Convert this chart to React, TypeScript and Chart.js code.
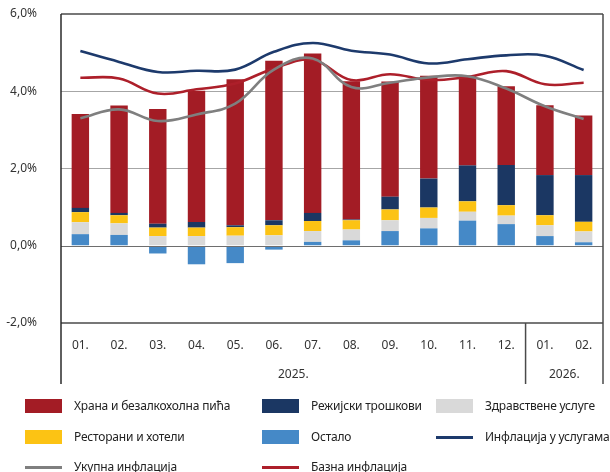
import React, { useEffect, useRef } from "react";
import { Chart, registerables } from "chart.js";

Chart.register(...registerables);

const months = ["01.", "02.", "03.", "04.", "05.", "06.", "07.", "08.", "09.", "10.", "11.", "12.", "01.", "02."];
const years = [
  { label: "2025.", from: 0, to: 11 },
  { label: "2026.", from: 12, to: 13 },
];

const food = [2.43, 2.78, 2.97, 3.4, 3.78, 4.13, 4.13, 3.58, 2.98, 2.66, 2.32, 2.04, 1.81, 1.54];
const utilities = [0.11, 0.06, 0.1, 0.145, 0.05, 0.13, 0.21, 0.02, 0.33, 0.75, 0.93, 1.04, 1.04, 1.21];
const restaurants = [0.26, 0.21, 0.22, 0.22, 0.22, 0.26, 0.26, 0.24, 0.28, 0.27, 0.27, 0.27, 0.26, 0.25];
const health = [0.31, 0.3, 0.25, 0.25, 0.26, 0.27, 0.28, 0.28, 0.28, 0.27, 0.23, 0.22, 0.28, 0.28];
const other = [0.3, 0.28, -0.2, -0.48, -0.45, -0.1, 0.1, 0.14, 0.38, 0.45, 0.65, 0.56, 0.25, 0.09];

const servicesInflation = [5.04, 4.76, 4.5, 4.53, 4.56, 5.02, 5.25, 5.05, 4.95, 4.72, 4.83, 4.93, 4.92, 4.55];
const headlineInflation = [3.3, 3.53, 3.23, 3.4, 3.68, 4.56, 4.85, 4.11, 4.22, 4.36, 4.39, 4.07, 3.61, 3.28];
const coreInflation = [4.35, 4.33, 3.94, 4.05, 4.2, 4.59, 4.81, 4.29, 4.44, 4.29, 4.37, 4.52, 4.18, 4.22];

const yTicks = [-2, 0, 2, 4, 6];

const C = {
  food: "#a31c25",
  utilities: "#1b3763",
  health: "#d9d9d9",
  restaurants: "#fcc314",
  other: "#4589c7",
  services: "#1d3a6c",
  headline: "#7f7f7f",
  core: "#ad1f2a",
};

const FONT = "'Noto Sans', sans-serif";

const legendItems = [
  { label: "Храна и безалкохолна пића", color: C.food, type: "box", col: 0, row: 0 },
  { label: "Режијски трошкови", color: C.utilities, type: "box", col: 1, row: 0 },
  { label: "Здравствене услуге", color: C.health, type: "box", col: 2, row: 0 },
  { label: "Ресторани и хотели", color: C.restaurants, type: "box", col: 0, row: 1 },
  { label: "Остало", color: C.other, type: "box", col: 1, row: 1 },
  { label: "Инфлација у услугама", color: C.services, type: "line", col: 2, row: 1 },
  { label: "Укупна инфлација", color: C.headline, type: "line", col: 0, row: 2 },
  { label: "Базна инфлација", color: C.core, type: "line", col: 1, row: 2 },
];
const colX = [25, 262, 436];
const rowY = [406, 437, 467];

const framePlugin = {
  id: "frame",
  afterDatasetsDraw(chart: any) {
    const { ctx, chartArea, scales } = chart;
    const y = scales.y;
    const x = scales.x;
    const bottomExt = 384;
    ctx.save();
    ctx.strokeStyle = "#6e6e6e";
    ctx.lineWidth = 1.2;
    const y0 = Math.round(y.getPixelForValue(0)) + 0.5;
    ctx.beginPath();
    ctx.moveTo(chartArea.left, y0);
    ctx.lineTo(chartArea.right, y0);
    ctx.stroke();
    ctx.strokeStyle = "#4a4a4a";
    ctx.lineWidth = 1.5;
    ctx.beginPath();
    ctx.moveTo(chartArea.left, chartArea.top);
    ctx.lineTo(chartArea.right, chartArea.top);
    ctx.stroke();
    ctx.beginPath();
    ctx.moveTo(chartArea.left, chartArea.bottom);
    ctx.lineTo(chartArea.right, chartArea.bottom);
    ctx.stroke();
    ctx.strokeStyle = "#2a2a2a";
    ctx.beginPath();
    ctx.moveTo(chartArea.left, chartArea.top);
    ctx.lineTo(chartArea.left, bottomExt);
    ctx.stroke();
    ctx.strokeStyle = "#4a4a4a";
    ctx.beginPath();
    ctx.moveTo(chartArea.right, chartArea.top);
    ctx.lineTo(chartArea.right, bottomExt);
    ctx.stroke();
    ctx.fillStyle = "#333";
    ctx.font = `12px ${FONT}`;
    ctx.textAlign = "center";
    ctx.textBaseline = "middle";
    years.forEach((yr, i) => {
      const a = x.getPixelForTick(yr.from);
      const b = x.getPixelForTick(yr.to);
      const half = (x.getPixelForTick(1) - x.getPixelForTick(0)) / 2;
      const l = a - half;
      const r = b + half;
      if (i > 0) {
        ctx.strokeStyle = "#4a4a4a";
        ctx.lineWidth = 1.5;
        ctx.beginPath();
        ctx.moveTo(l, chartArea.bottom);
        ctx.lineTo(l, bottomExt);
        ctx.stroke();
      }
      ctx.fillText(yr.label, (l + r) / 2, 375);
    });
    ctx.restore();
  },
};

export default function App() {
  const ref = useRef<HTMLCanvasElement>(null);
  useEffect(() => {
    if (!ref.current) return;
    const bar = (label: string, data: number[], color: string) => ({
      type: "bar" as const,
      label,
      data,
      backgroundColor: color,
      borderWidth: 0,
      order: 3,
      stack: "s",
      categoryPercentage: 1,
      barPercentage: 0.45,
    });
    const line = (label: string, data: number[], color: string, order: number) => ({
      type: "line" as const,
      label,
      data,
      borderColor: color,
      backgroundColor: color,
      borderWidth: 2.6,
      pointRadius: 0,
      tension: 0.4,
      fill: false,
      order,
      stack: "line" + order,
    });
    const chart = new Chart(ref.current, {
      type: "bar",
      data: {
        labels: months,
        datasets: [
          bar("Остало", other, C.other),
          bar("Здравствене услуге", health, C.health),
          bar("Ресторани и хотели", restaurants, C.restaurants),
          bar("Режијски трошкови", utilities, C.utilities),
          bar("Храна и безалкохолна пића", food, C.food),
          line("Укупна инфлација", headlineInflation, C.headline, 0),
          line("Базна инфлација", coreInflation, C.core, 1),
          line("Инфлација у услугама", servicesInflation, C.services, 2),
        ] as any,
      },
      options: {
        responsive: false,
        animation: false,
        devicePixelRatio: 1,
        layout: { padding: { left: 0, right: 7, top: 14, bottom: 0 } },
        plugins: { legend: { display: false }, tooltip: { enabled: false } },
        scales: {
          x: {
            stacked: true,
            grid: { display: false, drawTicks: false },
            border: { display: false },
            ticks: { color: "#333", font: { family: FONT, size: 12 }, padding: 15, maxRotation: 0, autoSkip: false },
            afterFit(scale: any) {
              scale.height = 149;
            },
          },
          y: {
            stacked: true,
            min: -2,
            max: 6,
            afterBuildTicks(scale: any) {
              scale.ticks = yTicks.map((v) => ({ value: v }));
            },
            grid: {
              drawTicks: false,
              color: (c: any) => (c.tick && (c.tick.value === 2 || c.tick.value === 4) ? "#a6a6a6" : "rgba(0,0,0,0)"),
              lineWidth: 1,
            },
            border: { display: false },
            ticks: {
              color: "#333",
              font: { family: FONT, size: 12 },
              padding: 24,
              callback: (v: any) => Number(v).toFixed(1).replace(".", ",") + "%",
            },
            afterFit(scale: any) {
              scale.width = 61;
              scale.paddingTop = 0;
              scale.paddingBottom = 0;
            },
          },
        },
      },
      plugins: [framePlugin],
    });
    return () => chart.destroy();
  }, []);

  return (
    <div style={{ position: "absolute", left: 0, top: 0, width: 610, height: 472, background: "#fff", overflow: "hidden" }}>
      <canvas ref={ref} width={610} height={472} style={{ position: "absolute", left: 0, top: 0 }} />
      {legendItems.map((it, i) => (
        <div key={i}>
          <div
            style={{
              position: "absolute",
              left: colX[it.col],
              top: it.type === "box" ? rowY[it.row] - 7 : rowY[it.row] - 1.5,
              width: 37,
              height: it.type === "box" ? 14 : 3,
              background: it.color,
            }}
          />
          <div
            style={{
              position: "absolute",
              left: colX[it.col] + 49,
              top: rowY[it.row] - 9,
              height: 18,
              lineHeight: "18px",
              fontFamily: FONT,
              fontSize: 12,
              letterSpacing: "-0.2px",
              color: "#222",
              whiteSpace: "nowrap",
            }}
          >
            {it.label}
          </div>
        </div>
      ))}
    </div>
  );
}
